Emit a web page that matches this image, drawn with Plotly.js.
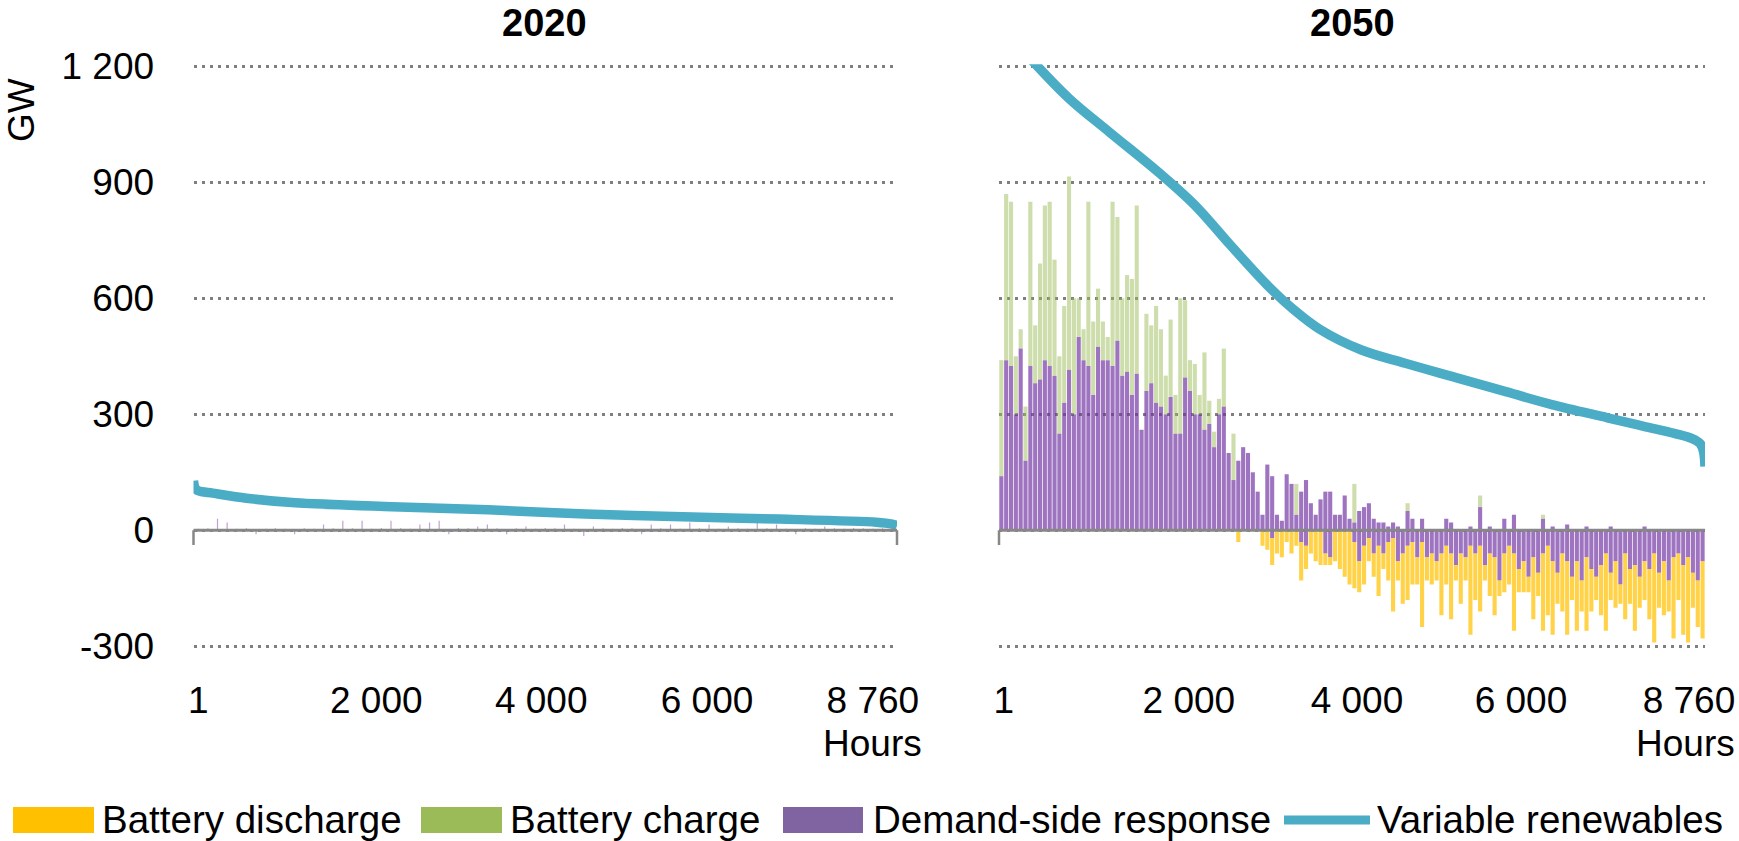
<!DOCTYPE html>
<html>
<head>
<meta charset="utf-8">
<script src="https://cdn.plot.ly/plotly-3.0.1.min.js"></script>
<style>
html,body{margin:0;padding:0;background:#fff;}
#chart{width:1739px;height:841px;}
</style>
</head>
<body>
<div id="chart"></div>
<script>
// ---------------- DATA ----------------
const panelTitles = ['2020', '2050'];
const seriesNames = ['Battery discharge', 'Battery charge', 'Demand-side response', 'Variable renewables'];
const xTickText = ['1', '2 000', '4 000', '6 000', '8 760'];
const yTickVals = [-300, 0, 300, 600, 900, 1200];
const yTickText = ['-300', '0', '300', '600', '900', '1 200'];

// 2020 – variable renewables duration curve (hour, GW)
const vre2020Hours = [1, 20, 60, 240, 660, 1270, 2470, 3670, 4880, 6090, 7290, 8500, 8700, 8760];
const vre2020 = [128, 110, 102, 96, 83, 71, 61, 53, 42, 35, 29, 21, 16, 12];

// 2020 – demand-side response, 120-hour bins (GW)
const dsr2020 = [
  4, 5, 30, 20, 4, 5, -10, 4, 5, 4,
  -10, 5, 4, 15, 5, 25, 5, 25, 4, 6,
  25, 5, 4, 15, 20, 25, -10, 6, 5, 10,
  15, 5, -10, 5, 10, 4, 6, 5, 15, 4,
  -15, 10, 5, 4, 6, 5, -10, 15, 5, 15,
  4, 20, 5, 15, 4, 10, 5, 4, 20, 5,
  15, 4, -10, 5, 4, 10, 5, 4, 6, 5,
  4, 5, 4
];

// 2050 – variable renewables duration curve (hour, GW)
const vre2050Hours = [1, 100, 435, 870, 1370, 1985, 2430, 2870, 3320, 3650, 3980, 4490, 5040, 5670, 6300, 6860, 7550, 8000, 8390, 8600, 8700, 8740, 8760];
const vre2050 = [1350, 1290, 1210, 1117, 1030, 925, 841, 738, 636, 572, 520, 467, 432, 395, 358, 325, 291, 269, 250, 237, 224, 205, 165];

// 2050 – 60-hour bins (GW)
const dsrUp2050 = [
  140, 440, 425, 300, 470, 180, 425, 380, 390, 440,
  425, 400, 250, 330, 415, 300, 500, 440, 425, 350,
  475, 440, 440, 425, 490, 400, 410, 350, 405, 260,
  360, 380, 330, 320, 300, 345, 250, 250, 395, 360,
  300, 300, 260, 275, 215, 300, 320, 200, 130, 180,
  215, 200, 150, 100, 40, 170, 140, 40, 25, 145,
  120, 40, 100, 130, 70, 40, 80, 100, 100, 40,
  40, 90, 30, 20, 50, 60, 70, 30, 20, 20,
  10, 20, 10, 0, 50, 30, 0, 30, 0, 0,
  0, 0, 30, 20, 0, 0, 0, 10, 0, 60,
  0, 10, 0, 0, 30, 0, 40, 0, 0, 0,
  0, 0, 30, 0, 10, 0, 0, 15, 0, 0,
  0, 10, 0, 0, 0, 0, 10, 0, 0, 0,
  0, 0, 0, 10, 0, 0, 0, 0, 0, 0,
  0, 0, 0, 0, 0, 0
];
const dsrDown2050 = [
  0, 0, 0, 0, 0, 0, 0, 0, 0, 0,
  0, 0, 0, 0, 0, 0, 0, 0, 0, 0,
  0, 0, 0, 0, 0, 0, 0, 0, 0, 0,
  0, 0, 0, 0, 0, 0, 0, 0, 0, 0,
  0, 0, 0, 0, 0, 0, 0, 0, 0, 0,
  0, 0, 0, 0, 0, 0, -20, 0, 0, 0,
  0, 0, -30, -40, 0, 0, 0, -60, -70, 0,
  0, 0, 0, -30, -80, -40, -20, -60, -40, -60,
  -30, -20, -80, -60, -40, -30, -70, -30, -70, -60,
  -80, -60, -40, -60, -90, -60, -70, -40, -60, -40,
  -90, -60, -70, -130, -60, -40, -60, -100, -80, -120,
  -70, -110, -60, -40, -80, -110, -60, -80, -120, -80,
  -130, -70, -100, -120, -90, -60, -110, -80, -140, -60,
  -100, -90, -120, -80, -100, -60, -110, -80, -130, -70,
  -60, -90, -70, -110, -130, -80
];
const charge2050 = [
  300, 430, 425, 150, 50, 140, 425, 150, 300, 400,
  425, 300, 200, 250, 500, 300, 100, 80, 425, 190,
  150, 100, 60, 425, 320, 200, 250, 300, 435, 0,
  200, 150, 250, 200, 100, 200, 100, 350, 200, 80,
  130, 50, 200, 60, 40, 40, 150, 0, 120, 0,
  0, 0, 0, 0, 0, 0, 0, 0, 0, 0,
  0, 80, 0, 0, 0, 0, 0, 0, 0, 0,
  0, 0, 0, 100, 0, 0, 0, 0, 0, 0,
  0, 0, 0, 0, 20, 0, 0, 0, 0, 0,
  0, 0, 0, 0, 0, 0, 0, 0, 0, 30,
  0, 0, 0, 0, 0, 0, 0, 0, 0, 0,
  0, 0, 10, 0, 0, 0, 0, 0, 0, 0,
  0, 0, 0, 0, 0, 0, 0, 0, 0, 0,
  0, 0, 0, 0, 0, 0, 0, 0, 0, 0,
  0, 0, 0, 0, 0, 0
];
const discharge2050 = [
  0, 0, 0, 0, 0, 0, 0, 0, 0, 0,
  0, 0, 0, 0, 0, 0, 0, 0, 0, 0,
  0, 0, 0, 0, 0, 0, 0, 0, 0, 0,
  0, 0, 0, 0, 0, 0, 0, 0, 0, 0,
  0, 0, 0, 0, 0, 0, 0, 0, 0, -30,
  0, 0, 0, 0, -40, -50, -70, -60, -70, -30,
  -60, -40, -100, -60, -60, -80, -90, -30, -20, -80,
  -100, -120, -140, -120, -80, -100, -60, -60, -130, -40,
  -100, -190, -50, -130, -140, -110, -70, -220, -60, -80,
  -50, -160, -100, -170, -40, -130, -60, -230, -120, -170,
  -40, -110, -150, -40, -100, -100, -200, -60, -80, -40,
  -160, -60, -200, -180, -190, -80, -150, -190, -60, -180,
  -80, -190, -110, -60, -130, -200, -70, -120, -50, -170,
  -90, -170, -80, -100, -130, -230, -90, -140, -80, -210,
  -120, -180, -220, -90, -120, -200
];

// ---------------- STYLE ----------------
const FONT = 'Liberation Sans, Arial, Helvetica, sans-serif';
const C_VRE = '#4BACC6';
const C_DSR_BAR = 'rgba(112,48,160,0.68)';
const C_CH_BAR = 'rgba(155,187,89,0.5)';
const C_DIS_BAR = 'rgba(255,192,0,0.72)';
const C_DSR_2020 = 'rgba(112,48,160,0.45)';
const LEG_COLORS = ['#FFC000', '#9BBB59', '#8064A2'];
const AXIS_GREY = '#878787';
const W = 1739, H = 841;
const px = v => v / W;
const py = v => 1 - v / H;

const traces = [
  {type: 'bar', name: seriesNames[2], x0: 60, dx: 120, y: dsr2020, width: 15,
   xaxis: 'x', yaxis: 'y', marker: {color: C_DSR_2020, line: {width: 0}}, showlegend: false},
  {type: 'scatter', mode: 'lines', name: seriesNames[3], x: vre2020Hours, y: vre2020,
   xaxis: 'x', yaxis: 'y', line: {color: C_VRE, width: 9.5, shape: 'spline', smoothing: 0.8}, showlegend: false},
  {type: 'bar', name: seriesNames[2], x0: 30, dx: 60, y: dsrUp2050,
   xaxis: 'x2', yaxis: 'y2', marker: {color: C_DSR_BAR, line: {width: 0}}, showlegend: false},
  {type: 'bar', name: seriesNames[2], x0: 30, dx: 60, y: dsrDown2050,
   xaxis: 'x2', yaxis: 'y2', marker: {color: C_DSR_BAR, line: {width: 0}}, showlegend: false},
  {type: 'bar', name: seriesNames[1], x0: 30, dx: 60, y: charge2050,
   xaxis: 'x2', yaxis: 'y2', marker: {color: C_CH_BAR, line: {width: 0}}, showlegend: false},
  {type: 'bar', name: seriesNames[0], x0: 30, dx: 60, y: discharge2050,
   xaxis: 'x2', yaxis: 'y2', marker: {color: C_DIS_BAR, line: {width: 0}}, showlegend: false},
  {type: 'scatter', mode: 'lines', name: seriesNames[3], x: vre2050Hours, y: vre2050,
   xaxis: 'x2', yaxis: 'y2', line: {color: C_VRE, width: 9.5, shape: 'spline', smoothing: 1}, showlegend: false}
];

// y range padded by 5 GW so the edge gridlines (1 200, -300) are drawn
const Y_PAD = 5;
const yDomain = [1 - (646.3 + Y_PAD * 0.3867) / H, 1 - (66.3 - Y_PAD * 0.3867) / H];
const xAxisCommon = {
  range: [1, 8760], showgrid: false, zeroline: false, showline: false,
  ticks: 'outside', ticklen: 19, tickcolor: 'rgba(0,0,0,0)',
  ticktext: xTickText, tickmode: 'array',
  tickfont: {size: 37, color: '#000', family: FONT}, fixedrange: true
};
const yAxisCommon = {
  range: [-300 - Y_PAD, 1200 + Y_PAD], domain: yDomain, tickmode: 'array', tickvals: yTickVals,
  showgrid: true, gridcolor: '#7f7f7f', gridwidth: 3, griddash: '3px,5px',
  zeroline: false, showline: false, fixedrange: true
};

const layout = {
  width: W, height: H,
  margin: {l: 0, r: 0, t: 0, b: 0},
  paper_bgcolor: '#fff', plot_bgcolor: '#fff',
  font: {family: FONT, color: '#000'},
  barmode: 'relative', bargap: 0.15,
  showlegend: false,
  xaxis: Object.assign({}, xAxisCommon, {domain: [px(193.5), px(897)], anchor: 'y',
    tickvals: [60, 2277, 4330, 6395, 8460]}),
  xaxis2: Object.assign({}, xAxisCommon, {domain: [px(999), px(1705)], anchor: 'y2',
    tickvals: [60, 2357, 4442, 6477, 8561]}),
  yaxis: Object.assign({}, yAxisCommon, {anchor: 'x', ticktext: yTickText,
    ticks: 'outside', ticklen: 31, tickcolor: 'rgba(0,0,0,0)',
    tickfont: {size: 37, color: '#000', family: FONT}}),
  yaxis2: Object.assign({}, yAxisCommon, {anchor: 'x2', showticklabels: false, ticks: ''}),
  shapes: [
    // zero axis lines and end ticks
    {type: 'line', xref: 'x domain', yref: 'y', x0: 0, x1: 1, y0: 0, y1: 0, layer: 'above', line: {color: AXIS_GREY, width: 3}},
    {type: 'line', xref: 'x domain', yref: 'y', x0: 0, x1: 0, y0: 0, y1: -38, layer: 'above', line: {color: AXIS_GREY, width: 2.5}},
    {type: 'line', xref: 'x domain', yref: 'y', x0: 1, x1: 1, y0: 0, y1: -38, layer: 'above', line: {color: AXIS_GREY, width: 2.5}},
    {type: 'line', xref: 'x2 domain', yref: 'y2', x0: 0, x1: 1, y0: 0, y1: 0, layer: 'above', line: {color: AXIS_GREY, width: 3}},
    {type: 'line', xref: 'x2 domain', yref: 'y2', x0: 0, x1: 0, y0: 0, y1: -38, layer: 'above', line: {color: AXIS_GREY, width: 2.5}},
    // legend swatches
    {type: 'rect', xref: 'paper', yref: 'paper', x0: px(13), x1: px(94), y0: py(833), y1: py(807), fillcolor: LEG_COLORS[0], line: {width: 0}},
    {type: 'rect', xref: 'paper', yref: 'paper', x0: px(421), x1: px(502), y0: py(833), y1: py(807), fillcolor: LEG_COLORS[1], line: {width: 0}},
    {type: 'rect', xref: 'paper', yref: 'paper', x0: px(783), x1: px(863), y0: py(833), y1: py(807), fillcolor: LEG_COLORS[2], line: {width: 0}},
    {type: 'line', xref: 'paper', yref: 'paper', x0: px(1284), x1: px(1370), y0: py(820), y1: py(820), line: {color: C_VRE, width: 9}}
  ],
  annotations: [
    {text: '<b>' + panelTitles[0] + '</b>', xref: 'paper', yref: 'paper', x: px(544), y: py(23), xanchor: 'center', yanchor: 'middle', showarrow: false, font: {size: 38, family: FONT, color: '#000'}},
    {text: '<b>' + panelTitles[1] + '</b>', xref: 'paper', yref: 'paper', x: px(1352), y: py(23), xanchor: 'center', yanchor: 'middle', showarrow: false, font: {size: 38, family: FONT, color: '#000'}},
    {text: 'GW', xref: 'paper', yref: 'paper', x: px(21), y: py(110), xanchor: 'center', yanchor: 'middle', textangle: -90, showarrow: false, font: {size: 37, family: FONT, color: '#000'}},
    {text: 'Hours', xref: 'paper', yref: 'paper', x: px(924), y: py(743), xanchor: 'right', yanchor: 'middle', showarrow: false, font: {size: 37, family: FONT, color: '#000'}},
    {text: 'Hours', xref: 'paper', yref: 'paper', x: px(1737), y: py(743), xanchor: 'right', yanchor: 'middle', showarrow: false, font: {size: 37, family: FONT, color: '#000'}},
    {text: seriesNames[0], xref: 'paper', yref: 'paper', x: px(100), y: py(819), xanchor: 'left', yanchor: 'middle', showarrow: false, font: {size: 38.5, family: FONT, color: '#000'}},
    {text: seriesNames[1], xref: 'paper', yref: 'paper', x: px(508), y: py(819), xanchor: 'left', yanchor: 'middle', showarrow: false, font: {size: 38.5, family: FONT, color: '#000'}},
    {text: seriesNames[2], xref: 'paper', yref: 'paper', x: px(871), y: py(819), xanchor: 'left', yanchor: 'middle', showarrow: false, font: {size: 38.5, family: FONT, color: '#000'}},
    {text: seriesNames[3], xref: 'paper', yref: 'paper', x: px(1375), y: py(819), xanchor: 'left', yanchor: 'middle', showarrow: false, font: {size: 38.5, family: FONT, color: '#000'}}
  ]
};

Plotly.newPlot('chart', traces, layout, {displayModeBar: false, staticPlot: true});
</script>
</body>
</html>
